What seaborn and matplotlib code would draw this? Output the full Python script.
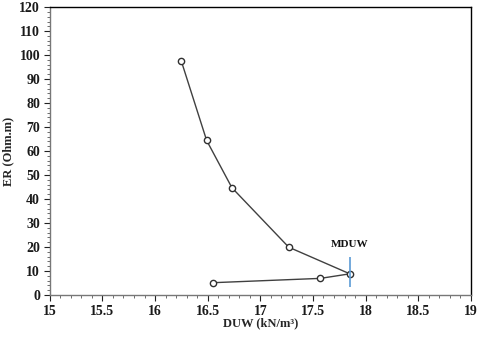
import numpy as np
import pandas as pd
import seaborn as sns
import matplotlib.pyplot as plt
from matplotlib.ticker import MultipleLocator

# data (in drawing order)
duw = [16.25, 16.49, 16.73, 17.27, 17.85, 17.57, 16.55]
er = [97.4, 64.4, 44.7, 19.9, 8.8, 6.9, 5.1]
mduw_x = 17.85
mduw_span = [3.3, 15.8]

df = pd.DataFrame({"DUW": duw, "ER": er, "order": range(len(duw))})

sns.set_style("ticks")
plt.rcParams['font.family'] = ['Liberation Serif', 'DejaVu Serif']
plt.rcParams['font.weight'] = 'bold'

fig = plt.figure(figsize=(4.79, 3.39), dpi=100)
ax = fig.add_axes([0.104, 0.13, 0.879, 0.849])

sns.lineplot(data=df, x="DUW", y="ER", sort=False, ax=ax, color="#404040",
             linewidth=1.0, marker="o", markersize=4.5, markerfacecolor="white",
             markeredgecolor="#303030", markeredgewidth=1.0)

ax.vlines(mduw_x, mduw_span[0], mduw_span[1], color="#5b9bd5", linewidth=1.2)
ax.text(mduw_x, 19, "MDUW", ha="center", va="bottom", fontsize=8,
        fontweight="bold", color="#111111")

ax.set_xlim(15, 19)
ax.set_ylim(0, 120)
ax.xaxis.set_major_locator(MultipleLocator(0.5))
ax.xaxis.set_minor_locator(MultipleLocator(0.1))
ax.yaxis.set_major_locator(MultipleLocator(10))
ax.yaxis.set_minor_locator(MultipleLocator(2))
ax.set_xticks(np.arange(15, 19.01, 0.5))
ax.set_xticklabels(["15", "15.5", "16", "16.5", "17", "17.5", "18", "18.5", "19"])

ax.tick_params(which="major", direction="out", length=4, width=0.8,
               labelsize=10, colors="#222222", labelcolor="#1a1a1a", pad=3)
ax.tick_params(which="minor", direction="out", length=2.5, width=0.6,
               colors="#555555")
for lab in ax.get_xticklabels() + ax.get_yticklabels():
    lab.set_fontweight("bold")

for s in ax.spines.values():
    s.set_visible(True)
    s.set_color("black")
    s.set_linewidth(1.0)
ax.spines["left"].set_color("#777777")
ax.spines["bottom"].set_color("#777777")

ax.set_xlabel("DUW (kN/m³)", fontsize=9, fontweight="bold", labelpad=0)
ax.set_ylabel("ER (Ohm.m)", fontsize=9, fontweight="bold", labelpad=4)

fig.savefig("out.png", dpi=100)
